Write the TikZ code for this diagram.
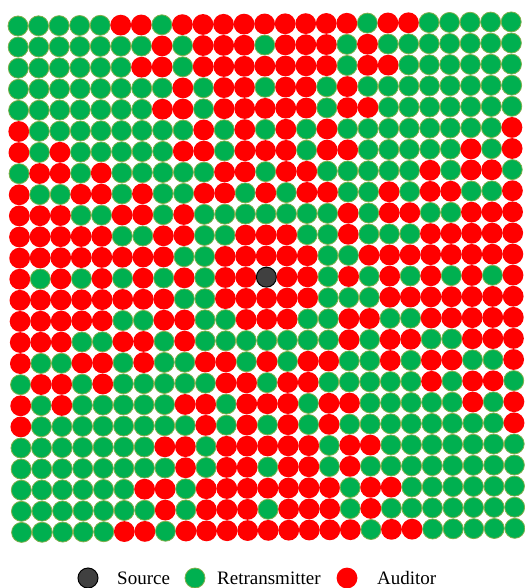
\documentclass[tikz,border=0pt]{standalone}
\usepackage{fontspec}
\setmainfont{Liberation Serif}
\definecolor{gr}{HTML}{00B050}
\definecolor{ol}{HTML}{7FAE4A}
\definecolor{rd}{HTML}{FF0000}
\definecolor{sc}{HTML}{404040}
\begin{document}
\begin{tikzpicture}[x=1pt,y=-1pt,
  cellG/.style={circle,minimum size=20pt,inner sep=0pt,fill=gr,draw=ol,line width=0.8pt},
  cellR/.style={circle,minimum size=20.8pt,inner sep=0pt,fill=rd},
  cellS/.style={circle,minimum size=20pt,inner sep=0pt,fill=sc,draw=black,line width=1pt},
  legtext/.style={anchor=base west,inner sep=0pt,font=\fontsize{19}{22}\selectfont}]
\useasboundingbox (0,0) rectangle (524,588);
\foreach \row [count=\r] in {
 {G,G,G,G,G,R,R,G,R,R,R,R,R,R,R,R,R,G,R,R,G,G,G,G,G},
 {G,G,G,G,G,G,G,R,G,R,R,R,G,R,R,R,G,R,G,G,G,G,G,G,G},
 {G,G,G,G,G,G,R,R,G,R,R,R,R,R,R,R,G,R,R,G,G,G,G,G,G},
 {G,G,G,G,G,G,G,G,R,G,R,R,G,R,R,G,R,G,G,G,G,G,G,G,G},
 {G,G,G,G,G,G,G,R,R,G,R,R,R,R,R,G,R,R,G,G,G,G,G,G,G},
 {R,G,G,G,G,G,G,G,G,R,G,R,G,R,G,R,G,G,G,G,G,G,G,G,R},
 {R,G,R,G,G,G,G,G,R,R,G,R,R,R,G,R,R,G,G,G,G,G,R,G,R},
 {G,R,R,G,R,G,G,G,G,G,R,R,G,R,R,G,G,G,G,G,R,G,R,R,G},
 {R,G,G,R,R,G,R,G,G,R,R,G,R,G,R,R,G,G,R,G,R,R,G,G,R},
 {R,R,R,G,G,R,R,G,R,G,G,G,G,G,G,G,R,G,R,R,G,G,R,R,R},
 {R,R,R,R,R,G,G,R,R,G,G,R,R,R,G,G,R,G,G,G,R,R,R,R,R},
 {R,R,R,R,R,R,R,R,G,G,R,R,R,R,R,G,G,R,R,R,R,R,R,R,R},
 {R,G,R,G,R,G,R,G,R,G,R,R,S,R,R,G,R,G,R,G,R,G,R,G,R},
 {R,R,R,R,R,R,R,R,G,G,R,R,R,R,R,G,G,G,R,R,R,R,R,R,R},
 {R,R,R,R,R,G,G,R,R,G,G,R,R,R,G,G,R,R,G,G,R,R,R,R,R},
 {R,R,R,G,G,R,R,G,R,G,G,G,G,G,G,G,R,G,R,R,G,G,R,R,R},
 {R,G,G,R,R,G,R,G,G,R,R,G,R,G,R,R,G,G,R,G,R,R,G,G,R},
 {G,R,R,G,R,G,G,G,G,G,R,R,G,R,R,G,G,G,G,G,R,G,R,R,G},
 {R,G,R,G,G,G,G,G,R,R,G,R,R,R,G,R,R,G,G,G,G,G,R,G,R},
 {R,G,G,G,G,G,G,G,G,R,G,R,G,R,G,R,G,G,G,G,G,G,G,G,R},
 {G,G,G,G,G,G,G,R,R,G,R,R,R,R,R,G,R,R,G,G,G,G,G,G,G},
 {G,G,G,G,G,G,G,G,R,G,R,R,G,R,R,G,R,G,G,G,G,G,G,G,G},
 {G,G,G,G,G,G,R,R,G,R,R,R,R,R,R,R,G,R,R,G,G,G,G,G,G},
 {G,G,G,G,G,G,G,R,G,R,R,R,G,R,R,R,G,R,G,G,G,G,G,G,G},
 {G,G,G,G,G,R,R,G,R,R,R,R,R,R,R,R,R,G,R,R,G,G,G,G,G}} {
  \foreach \c [count=\k] in \row {
    \pgfmathsetmacro\cx{18+(\k-1)*20.55+(\r-1)*0.15}
    \pgfmathsetmacro\cy{26+(\r-1)*21.1-(\k-1)*0.17}
    \node[cell\c] (n-\r-\k) at (\cx,\cy) {};
  }
}
% legend
\node[cellS] (lgS) at (88,578) {};
\node[legtext] (ltS) at (117,584) {Source};
\node[cellG] (lgG) at (195,578) {};
\node[legtext] (ltG) at (217,584) {Retransmitter};
\node[cellR] (lgR) at (347,578) {};
\node[legtext] (ltR) at (377,584) {Auditor};
\end{tikzpicture}
\end{document}
